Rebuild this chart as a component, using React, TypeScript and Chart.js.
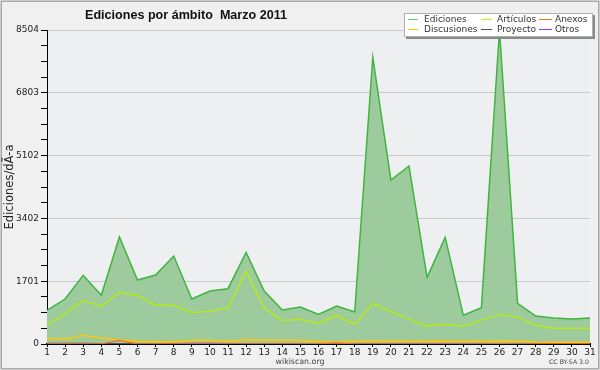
import React, { useEffect, useRef } from "react";
import { Chart, registerables } from "chart.js";

Chart.register(...registerables);

const days = ["1","2","3","4","5","6","7","8","9","10","11","12","13","14","15","16","17","18","19","20","21","22","23","24","25","26","27","28","29","30","31"];

const ediciones = [912,1218,1860,1318,2897,1733,1869,2383,1218,1435,1498,2482,1435,921,1002,803,1029,867,7764,4441,4820,1805,2889,777,984,8504,1101,758,704,677,704];
const articulos = [514,821,1182,1020,1399,1318,1047,1047,857,884,984,1968,966,641,668,560,777,533,1101,875,677,487,533,479,650,803,731,506,425,425,425];
const discusiones = [154,127,235,162,108,72,63,63,99,99,72,117,99,99,99,72,54,90,90,90,81,81,90,72,90,90,90,54,45,45,45];
const anexos = [0,0,0,5,100,5,0,0,0,0,0,0,0,0,0,10,30,5,0,0,0,0,0,0,0,10,5,0,0,0,0];
const proyecto = [20,18,15,10,12,8,6,6,5,5,5,6,5,5,4,4,6,5,8,6,5,5,6,4,5,8,6,4,4,4,4];
const otros = [0,0,0,0,0,0,5,10,18,18,8,3,2,2,2,2,2,2,3,3,2,2,2,2,2,2,2,2,2,2,2];

const yMax = 8504;
const yDivisions = 20;

const titleText = "Ediciones por ámbito  Marzo 2011";
const yTitle = "Ediciones/dÃ-a";
const footerText = "wikiscan.org";
const licenseText = "CC BY-SA 3.0";

const colors = {
  ediciones: "#3fb53f",
  edicionesFill: "#9dcb9d",
  articulos: "#b8f000",
  anexos: "#f07030",
  discusiones: "#ffc800",
  proyecto: "#555555",
  otros: "#9933ff",
};

const legendItems = [
  { label: "Ediciones", color: "#66cc66", col: 0, row: 0 },
  { label: "Artículos", color: colors.articulos, col: 1, row: 0 },
  { label: "Anexos", color: colors.anexos, col: 2, row: 0 },
  { label: "Discusiones", color: colors.discusiones, col: 0, row: 1 },
  { label: "Proyecto", color: colors.proyecto, col: 1, row: 1 },
  { label: "Otros", color: colors.otros, col: 2, row: 1 },
];

function fitFont(ctx: CanvasRenderingContext2D, text: string, width: number, family: string, weight: string, base: number) {
  ctx.font = `${weight} ${base}px ${family}`;
  const w = ctx.measureText(text).width;
  const size = base * width / w;
  ctx.font = `${weight} ${size.toFixed(2)}px ${family}`;
}

const decoPlugin = {
  id: "deco",
  beforeDraw(chart: any) {
    const ctx = chart.ctx as CanvasRenderingContext2D;
    const a = chart.chartArea;
    ctx.save();
    ctx.fillStyle = "#f0f0f0";
    ctx.fillRect(0, 0, chart.width, chart.height);
    ctx.fillStyle = "#eeeff1";
    ctx.fillRect(a.left, a.top, a.right - a.left, a.bottom - a.top);
    ctx.restore();
  },
  afterDraw(chart: any) {
    const ctx = chart.ctx as CanvasRenderingContext2D;
    const a = chart.chartArea;
    ctx.save();
    // frame
    ctx.strokeStyle = "#a8a8a8";
    ctx.lineWidth = 1.5;
    ctx.strokeRect(1.25, 1.25, chart.width - 2.5, chart.height - 2.5);

    // title
    ctx.fillStyle = "#111";
    ctx.textAlign = "left";
    ctx.textBaseline = "alphabetic";
    fitFont(ctx, titleText, 202, "'Liberation Sans', Arial, sans-serif", "bold", 13);
    ctx.fillText(titleText, 85, 18.5);

    // y title
    ctx.save();
    ctx.translate(10, (a.top + a.bottom) / 2);
    ctx.rotate(-Math.PI / 2);
    ctx.textAlign = "center";
    ctx.textBaseline = "middle";
    ctx.fillStyle = "#222";
    fitFont(ctx, yTitle, 85, "'DejaVu Sans', sans-serif", "normal", 11);
    ctx.fillText(yTitle, 0, 0);
    ctx.restore();

    // footer
    ctx.fillStyle = "#444";
    ctx.textAlign = "center";
    ctx.textBaseline = "middle";
    fitFont(ctx, footerText, 49, "'DejaVu Sans', sans-serif", "normal", 8);
    ctx.fillText(footerText, 300, 361.5);
    ctx.textAlign = "left";
    fitFont(ctx, licenseText, 40, "'DejaVu Sans', sans-serif", "normal", 6);
    ctx.fillText(licenseText, 549, 362);

    // legend
    const bx = 404, by = 13, bw = 189, bh = 24;
    ctx.fillStyle = "#8a8a8a";
    ctx.fillRect(bx + 2, by + 2, bw, bh);
    ctx.fillStyle = "#ffffff";
    ctx.fillRect(bx, by, bw, bh);
    ctx.strokeStyle = "#b0b0b0";
    ctx.lineWidth = 1;
    ctx.strokeRect(bx + 0.5, by + 0.5, bw - 1, bh - 1);
    const colX = [408, 481, 539];
    const lineW = [10, 11, 13];
    const textX = [424, 497, 555];
    const rowY = [19, 29];
    ctx.font = "9px 'DejaVu Sans', sans-serif";
    ctx.textBaseline = "middle";
    ctx.textAlign = "left";
    legendItems.forEach((it) => {
      const y = rowY[it.row];
      ctx.strokeStyle = it.color;
      ctx.lineWidth = 1;
      ctx.beginPath();
      ctx.moveTo(colX[it.col], y + 0.5);
      ctx.lineTo(colX[it.col] + lineW[it.col], y + 0.5);
      ctx.stroke();
      ctx.fillStyle = "#333";
      ctx.fillText(it.label, textX[it.col], y + 0.5);
    });
    ctx.restore();
  },
};

export default function App() {
  const ref = useRef<HTMLCanvasElement>(null);
  useEffect(() => {
    const canvas = ref.current;
    if (!canvas) return;
    const lineDs = (label: string, data: number[], color: string, width: number) => ({
      label,
      data,
      borderColor: color,
      backgroundColor: color,
      borderWidth: width,
      pointRadius: 0,
      fill: false,
      tension: 0,
      order: 1,
    });
    const chart = new Chart(canvas, {
      type: "line",
      data: {
        labels: days,
        datasets: [
          {
            label: "Ediciones",
            data: ediciones,
            borderColor: colors.ediciones,
            backgroundColor: colors.edicionesFill,
            borderWidth: 1.5,
            pointRadius: 0,
            fill: "origin",
            tension: 0,
            order: 10,
          },
          lineDs("Artículos", articulos, colors.articulos, 1.3),
          lineDs("Anexos", anexos, colors.anexos, 1.3),
          lineDs("Discusiones", discusiones, colors.discusiones, 1.5),
          lineDs("Proyecto", proyecto, colors.proyecto, 1.2),
          lineDs("Otros", otros, colors.otros, 1.2),
        ],
      },
      options: {
        responsive: false,
        animation: false,
        devicePixelRatio: 1,
        layout: { padding: { left: 8, right: 10, top: 30, bottom: 0 } },
        plugins: {
          legend: { display: false },
          tooltip: { enabled: false },
          title: { display: false },
        },
        scales: {
          x: {
            type: "category",
            offset: false,
            grid: {
              display: true,
              drawOnChartArea: false,
              drawTicks: true,
              tickLength: 3,
              color: "#000",
              lineWidth: 1,
            },
            border: { display: true, color: "#000", width: 2 },
            ticks: {
              autoSkip: false,
              maxRotation: 0,
              minRotation: 0,
              padding: 0,
              color: "#222",
              font: { family: "'DejaVu Sans', sans-serif", size: 9 },
            },
            afterFit: (s: any) => {
              s.height = 26;
            },
          },
          y: {
            type: "linear",
            min: 0,
            max: yMax,
            z: 1,
            afterBuildTicks: (s: any) => {
              const t = [];
              for (let i = 0; i <= yDivisions; i++) t.push({ value: (yMax * i) / yDivisions });
              s.ticks = t;
            },
            grid: {
              drawTicks: true,
              tickLength: 6,
              tickColor: "#000",
              lineWidth: 1,
              color: (c: any) =>
                c.index % 4 === 0 && c.index > 0 ? "rgba(120,120,120,0.32)" : "rgba(0,0,0,0)",
            },
            border: { display: true, color: "#000", width: 1 },
            ticks: {
              autoSkip: false,
              padding: 2,
              color: "#222",
              font: { family: "'DejaVu Sans', sans-serif", size: 9 },
              callback: (v: any, i: number) => (i % 4 === 0 ? String(Math.round(Number(v))) : ""),
            },
            afterFit: (s: any) => {
              s.width = 39;
            },
          },
        },
      },
      plugins: [decoPlugin],
    } as any);
    return () => chart.destroy();
  }, []);
  return (
    <div style={{ position: "fixed", left: 0, top: 0, width: 600, height: 370 }}>
      <canvas ref={ref} width={600} height={370} style={{ display: "block", width: 600, height: 370 }} />
    </div>
  );
}
